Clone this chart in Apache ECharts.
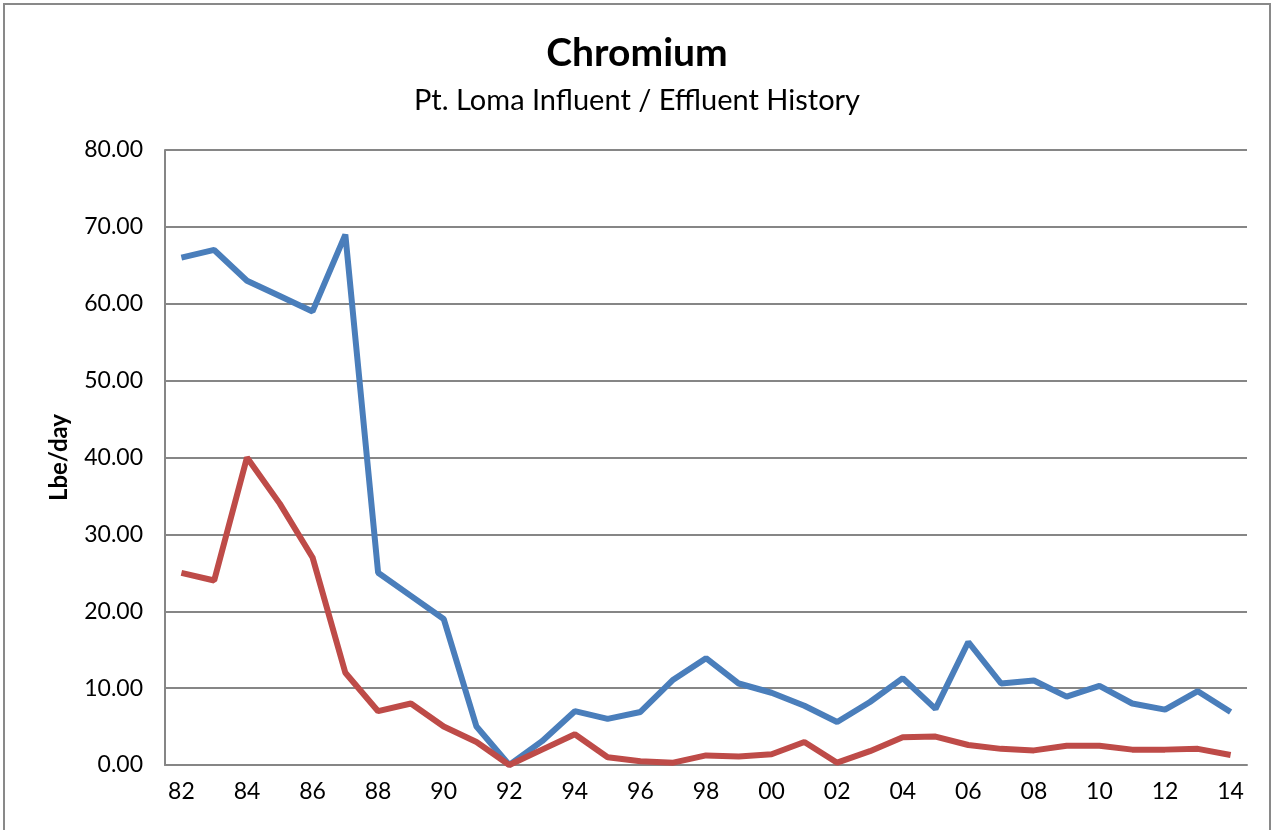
<!DOCTYPE html>
<html>
<head>
<meta charset="utf-8">
<script src="https://cdn.jsdelivr.net/npm/echarts@6/dist/echarts.min.js"></script>
<style>
  html, body { margin: 0; padding: 0; background: #fff; }
  #main { position: absolute; left: 3px; top: 3px; width: 1268px; height: 840px;
          border: 2px solid #898989; box-sizing: border-box; }
</style>
</head>
<body>
<div id="main"></div>
<script>
// years on x axis
var years = ['82','83','84','85','86','87','88','89','90','91','92','93','94','95','96','97','98','99',
             '00','01','02','03','04','05','06','07','08','09','10','11','12','13','14'];
// influent (blue)
var influent = [66.0, 67.0, 63.0, 61.0, 59.0, 69.0, 25.0, 22.0, 19.0, 5.0, 0.0, 3.1, 7.0, 6.0, 6.9, 11.1, 13.9, 10.6,
                9.4, 7.7, 5.6, 8.2, 11.3, 7.3, 16.0, 10.6, 11.0, 8.9, 10.3, 8.0, 7.2, 9.6, 6.9];
// effluent (red)
var effluent = [25.0, 24.0, 40.0, 34.0, 27.0, 12.0, 7.0, 8.0, 5.0, 3.0, 0.0, 2.0, 4.0, 1.0, 0.5, 0.3, 1.25, 1.1,
                1.4, 3.0, 0.3, 1.8, 3.6, 3.7, 2.6, 2.1, 1.9, 2.5, 2.5, 2.0, 2.0, 2.1, 1.3];

var myChart = echarts.init(document.getElementById('main'));
myChart.setOption({
    animation: false,
    title: [{
        text: 'Chromium',
        left: 'center',
        top: 24,
        textStyle: { fontFamily: 'Lato', fontSize: 39, fontWeight: 'bold', color: '#000' }
    }, {
        text: 'Pt. Loma Influent / Effluent History',
        left: 'center',
        top: 76,
        textStyle: { fontFamily: 'Lato', fontSize: 29, fontWeight: 'normal', color: '#000' }
    }],
    grid: { left: 160, right: 22, top: 145, bottom: 76 },
    xAxis: {
        type: 'category',
        data: years,
        boundaryGap: true,
        axisLine: { show: true, lineStyle: { color: '#868686', width: 2 } },
        axisTick: { show: false },
        axisLabel: { interval: 1, fontFamily: 'Lato', fontSize: 23, color: '#000', margin: 15 }
    },
    yAxis: {
        type: 'value',
        min: 0,
        max: 80,
        interval: 10,
        name: 'Lbe/day',
        nameLocation: 'middle',
        nameGap: 94,
        nameTextStyle: { fontFamily: 'Lato', fontSize: 24, fontWeight: 'bold', color: '#000' },
        axisLine: { show: true, lineStyle: { color: '#868686', width: 2 } },
        axisTick: { show: false },
        splitLine: { lineStyle: { color: '#868686', width: 2 } },
        axisLabel: {
            fontFamily: 'Lato', fontSize: 23, color: '#000', margin: 22,
            formatter: function (v) { return v.toFixed(2); }
        }
    },
    series: [{
        name: 'Influent',
        type: 'line',
        data: influent,
        symbol: 'none',
        lineStyle: { color: '#4A7EBB', width: 6 },
        itemStyle: { color: '#4A7EBB' }
    }, {
        name: 'Effluent',
        type: 'line',
        data: effluent,
        symbol: 'none',
        lineStyle: { color: '#BE4B48', width: 6 },
        itemStyle: { color: '#BE4B48' }
    }]
});
</script>
</body>
</html>
